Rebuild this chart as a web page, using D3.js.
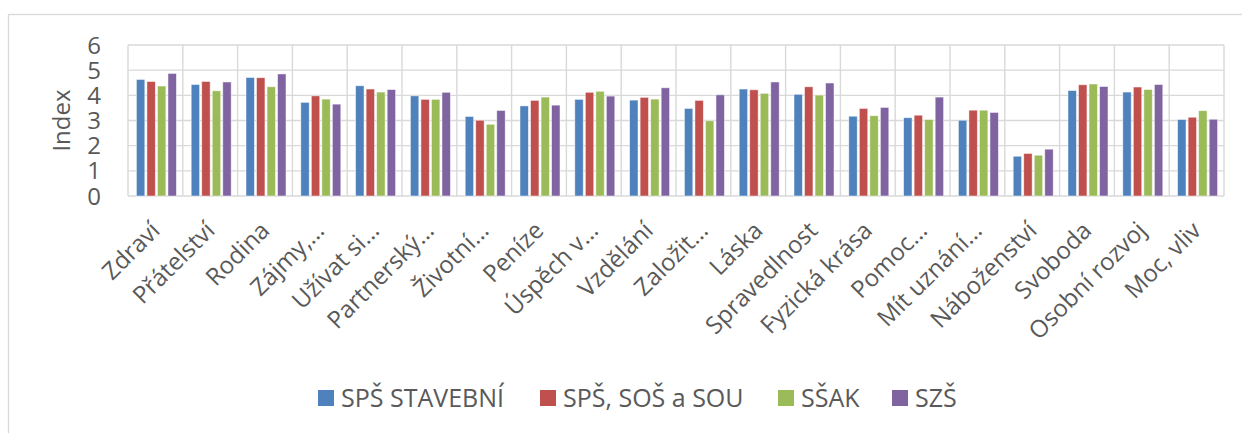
<!DOCTYPE html>
<html lang="cs">
<head>
<meta charset="UTF-8">
<title>Index hodnot</title>
<script src="https://d3js.org/d3.v7.min.js"></script>
<style>
  html, body { margin: 0; padding: 0; background: #fff; }
  svg { display: block; }
  .tick-y { font-family: "Open Sans", sans-serif; font-size: 24px; fill: #595959; }
  .cat { font-family: "Open Sans", sans-serif; font-size: 24px; fill: #595959; }
  .legend { font-family: "Liberation Sans Narrow", "Open Sans", sans-serif; font-size: 25px; fill: #595959; }
</style>
</head>
<body>
<div id="chart"></div>
<script>
const categories = ["Zdraví", "Přátelství", "Rodina", "Zájmy,…", "Užívat si…", "Partnerský…",
  "Životní…", "Peníze", "Úspěch v…", "Vzdělání", "Založit…", "Láska", "Spravedlnost",
  "Fyzická krása", "Pomoc…", "Mít uznání…", "Náboženství", "Svoboda", "Osobní rozvoj", "Moc, vliv"];

const seriesNames = ["SPŠ STAVEBNÍ", "SPŠ, SOŠ a SOU", "SŠAK", "SZŠ"];
const seriesColors = ["#4F81BD", "#C0504D", "#9BBB59", "#8064A2"];

const spsStavebni = [4.63, 4.43, 4.71, 3.72, 4.38, 3.98, 3.16, 3.58, 3.84, 3.81, 3.48, 4.25, 4.04, 3.17, 3.11, 3.01, 1.58, 4.19, 4.13, 3.04];
const spsSosSou   = [4.55, 4.55, 4.70, 3.98, 4.25, 3.84, 3.01, 3.80, 4.12, 3.92, 3.80, 4.22, 4.34, 3.48, 3.21, 3.41, 1.69, 4.42, 4.33, 3.13];
const ssak        = [4.37, 4.18, 4.34, 3.85, 4.13, 3.84, 2.85, 3.93, 4.16, 3.85, 2.99, 4.08, 4.01, 3.19, 3.04, 3.41, 1.62, 4.45, 4.23, 3.39];
const szs         = [4.87, 4.53, 4.85, 3.65, 4.23, 4.12, 3.40, 3.61, 3.97, 4.30, 4.02, 4.53, 4.49, 3.52, 3.93, 3.32, 1.86, 4.35, 4.43, 3.05];

const yTicks = [0, 1, 2, 3, 4, 5, 6];

const W = 1242, H = 433;
const plot = { left: 128, right: 1224, top: 45, bottom: 196 };

const allSeries = [spsStavebni, spsSosSou, ssak, szs];
const rows = categories.map((c, i) => ({
  cat: c,
  values: seriesNames.map((s, k) => ({ key: s, value: allSeries[k][i], color: seriesColors[k] }))
}));

const svg = d3.select("#chart").append("svg")
  .attr("width", W).attr("height", H);

svg.append("rect").attr("width", W).attr("height", H).attr("fill", "#fff");

// outer chart frame
svg.append("rect")
  .attr("x", 8.5).attr("y", 14.5)
  .attr("width", W).attr("height", H)
  .attr("fill", "none").attr("stroke", "#D9D9D9").attr("stroke-width", 1.3);

const x0 = d3.scaleBand().domain(categories).range([plot.left, plot.right]);
const x1 = d3.scaleBand().domain(seriesNames).range([0, 40]).paddingInner(0.2);
const y = d3.scaleLinear().domain([0, 6]).range([plot.bottom, plot.top]);

const grid = svg.append("g").attr("stroke", "#D9D9D9").attr("stroke-width", 1.4);
grid.selectAll("line.h").data(yTicks).enter().append("line")
  .attr("x1", plot.left).attr("x2", plot.right)
  .attr("y1", d => y(d)).attr("y2", d => y(d));
grid.selectAll("line.v").data(categories.concat([null])).enter().append("line")
  .attr("x1", (d, i) => plot.left + i * x0.step())
  .attr("x2", (d, i) => plot.left + i * x0.step())
  .attr("y1", plot.top).attr("y2", plot.bottom);

const groupOffset = (x0.bandwidth() - 40) / 2 + 1;
const groups = svg.append("g").selectAll("g").data(rows).enter().append("g")
  .attr("transform", d => `translate(${x0(d.cat) + groupOffset},0)`);
groups.selectAll("rect").data(d => d.values).enter().append("rect")
  .attr("x", d => x1(d.key))
  .attr("y", d => y(d.value))
  .attr("width", x1.bandwidth())
  .attr("height", d => y(0) - y(d.value))
  .attr("fill", d => d.color)
  .attr("stroke", "#fff").attr("stroke-opacity", 0.6).attr("stroke-width", 0.8);

// y tick labels
svg.append("g").selectAll("text").data(yTicks).enter().append("text")
  .attr("class", "tick-y")
  .attr("x", 101).attr("y", d => y(d))
  .attr("dy", "0.36em")
  .attr("text-anchor", "end")
  .text(d => d);

// y title
svg.append("text")
  .attr("class", "tick-y")
  .attr("transform", `translate(70,${(plot.top + plot.bottom) / 2}) rotate(-90)`)
  .attr("text-anchor", "middle")
  .text("Index");

// category labels
svg.append("g").selectAll("text").data(categories).enter().append("text")
  .attr("class", "cat")
  .attr("transform", d => `translate(${x0(d) + x0.bandwidth() / 2 + 6},${plot.bottom + 36}) rotate(-45)`)
  .attr("text-anchor", "end")
  .text(d => d);

// legend
const legendX = [318, 540, 778, 892];
const legend = svg.append("g").selectAll("g").data(seriesNames).enter().append("g")
  .attr("transform", (d, i) => `translate(${legendX[i]},390)`);
legend.append("rect").attr("width", 16).attr("height", 16)
  .attr("fill", (d, i) => seriesColors[i]);
legend.append("text").attr("class", "legend")
  .attr("x", 23).attr("y", 17)
  .text(d => d);
</script>
</body>
</html>
